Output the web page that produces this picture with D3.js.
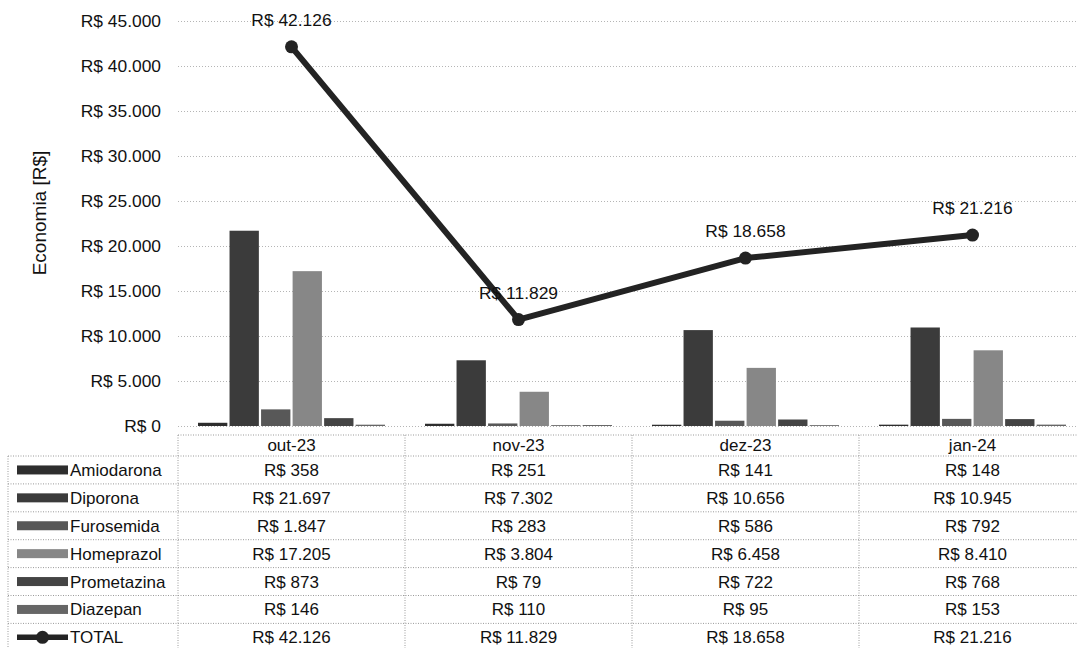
<!DOCTYPE html>
<html>
<head>
<meta charset="utf-8">
<script src="https://cdn.jsdelivr.net/npm/d3@7"></script>
<style>
  html, body { margin: 0; padding: 0; background: #fff; }
  svg { display: block; font-family: "Liberation Sans", Arial, sans-serif; }
</style>
</head>
<body>
<svg id="chart" width="1077" height="648"></svg>
<script>
// ---- data ----
const categories = ["out-23", "nov-23", "dez-23", "jan-24"];
const seriesNames = ["Amiodarona", "Diporona", "Furosemida", "Homeprazol", "Prometazina", "Diazepan"];
const amiodarona  = [358, 251, 141, 148];
const diporona    = [21697, 7302, 10656, 10945];
const furosemida  = [1847, 283, 586, 792];
const homeprazol  = [17205, 3804, 6458, 8410];
const prometazina = [873, 79, 722, 768];
const diazepan    = [146, 110, 95, 153];
const total       = [42126, 11829, 18658, 21216];
const totalName   = "TOTAL";
const yTicks      = [0, 5000, 10000, 15000, 20000, 25000, 30000, 35000, 40000, 45000];
const yTitle      = "Economia [R$]";

const seriesValues = [amiodarona, diporona, furosemida, homeprazol, prometazina, diazepan];
const seriesColors = ["#2e2e2e", "#3b3b3b", "#585858", "#878787", "#444444", "#666666"];

const locale = d3.formatLocale({decimal: ",", thousands: ".", grouping: [3], currency: ["R$ ", ""]});
const fmt = v => "R$ " + locale.format(",.0f")(v);

const svg = d3.select("#chart");

const x = d3.scaleBand().domain(categories).range([178, 1086]);
const x1 = d3.scaleBand().domain(seriesNames).range([20, 207]).paddingInner(0.07);
const y = d3.scaleLinear().domain([0, 45000]).range([426, 21]);

// gridlines
const grid = svg.append("g").attr("transform", "translate(178,0)")
  .call(d3.axisLeft(y).tickValues(yTicks).tickSize(-(1086 - 178)).tickFormat(""));
grid.select(".domain").remove();
grid.selectAll("line").attr("stroke", "#b5b5b5").attr("stroke-dasharray", "1,2");

// y tick labels
const yAxis = svg.append("g").attr("transform", "translate(161,0)")
  .call(d3.axisLeft(y).tickValues(yTicks).tickSize(0).tickPadding(0).tickFormat(fmt));
yAxis.select(".domain").remove();
yAxis.selectAll("text").attr("font-size", 17.4).attr("fill", "#111")
  .attr("font-family", "Liberation Sans, Arial, sans-serif");

// y title
svg.append("text")
  .attr("transform", "translate(46,213) rotate(-90)")
  .attr("text-anchor", "middle")
  .attr("font-size", 19).attr("fill", "#111")
  .text(yTitle);

// bars
categories.forEach((c, ci) => {
  const g = svg.append("g").attr("transform", `translate(${x(c)},0)`);
  g.selectAll("rect").data(seriesNames).join("rect")
    .attr("x", d => x1(d))
    .attr("width", x1.bandwidth())
    .attr("y", (d, i) => y(seriesValues[i][ci]))
    .attr("height", (d, i) => y(0) - y(seriesValues[i][ci]))
    .attr("fill", (d, i) => seriesColors[i]);
});

// total line
const line = d3.line().x((d, i) => x(categories[i]) + x.bandwidth() / 2).y(d => y(d));
svg.append("path").datum(total)
  .attr("d", line).attr("fill", "none")
  .attr("stroke", "#232323").attr("stroke-width", 6).attr("stroke-linejoin", "round");
svg.selectAll("circle.pt").data(total).join("circle").attr("class", "pt")
  .attr("cx", (d, i) => x(categories[i]) + x.bandwidth() / 2)
  .attr("cy", d => y(d)).attr("r", 6.5).attr("fill", "#232323");
svg.selectAll("text.lbl").data(total).join("text").attr("class", "lbl")
  .attr("x", (d, i) => x(categories[i]) + x.bandwidth() / 2)
  .attr("y", d => y(d) - 27)
  .attr("dy", "0.35em")
  .attr("text-anchor", "middle").attr("font-size", 17.4).attr("fill", "#111")
  .text(fmt);

// ---- data table ----
const tableTop = 435, headerH = 21, rowH = 27.9;
const legendLeft = 8, tableLeft = 178, tableRight = 1086;
const rows = seriesNames.concat([totalName]);
const rowVals = seriesValues.concat([total]);
const gridStroke = "#9a9a9a";
const tg = svg.append("g");

tg.append("line").attr("x1", tableLeft).attr("x2", tableRight)
  .attr("y1", tableTop).attr("y2", tableTop)
  .attr("stroke", gridStroke).attr("stroke-dasharray", "1,1.5");
for (let r = 0; r <= rows.length; r++) {
  const yy = tableTop + headerH + r * rowH;
  if (yy > 648) break;
  tg.append("line").attr("x1", legendLeft).attr("x2", tableRight)
    .attr("y1", yy).attr("y2", yy)
    .attr("stroke", gridStroke).attr("stroke-dasharray", "1,1.5");
}
tg.append("line").attr("x1", legendLeft).attr("x2", legendLeft)
  .attr("y1", tableTop + headerH).attr("y2", 648)
  .attr("stroke", gridStroke).attr("stroke-dasharray", "1,1.5");
categories.forEach(c => {
  tg.append("line").attr("x1", x(c)).attr("x2", x(c))
    .attr("y1", tableTop).attr("y2", 648)
    .attr("stroke", gridStroke).attr("stroke-dasharray", "1,1.5");
});

tg.selectAll("text.hdr").data(categories).join("text").attr("class", "hdr")
  .attr("x", c => x(c) + x.bandwidth() / 2)
  .attr("y", tableTop + headerH / 2).attr("dy", "0.35em")
  .attr("text-anchor", "middle").attr("font-size", 17).attr("fill", "#111")
  .text(c => c);

rows.forEach((name, r) => {
  const cy = tableTop + headerH + r * rowH + rowH / 2;
  if (r < seriesNames.length) {
    tg.append("rect").attr("x", 17).attr("y", cy - 4.5).attr("width", 51).attr("height", 9)
      .attr("fill", seriesColors[r]);
  } else {
    tg.append("line").attr("x1", 17).attr("x2", 68).attr("y1", cy).attr("y2", cy)
      .attr("stroke", "#232323").attr("stroke-width", 5.5);
    tg.append("circle").attr("cx", 42.5).attr("cy", cy).attr("r", 6.5).attr("fill", "#232323");
  }
  tg.append("text").attr("x", 70).attr("y", cy).attr("dy", "0.35em")
    .attr("font-size", 17).attr("fill", "#111").text(name);
  tg.selectAll(null).data(rowVals[r]).join("text")
    .attr("x", (d, i) => x(categories[i]) + x.bandwidth() / 2)
    .attr("y", cy).attr("dy", "0.35em")
    .attr("text-anchor", "middle").attr("font-size", 17).attr("fill", "#111")
    .text(fmt);
});
</script>
</body>
</html>
